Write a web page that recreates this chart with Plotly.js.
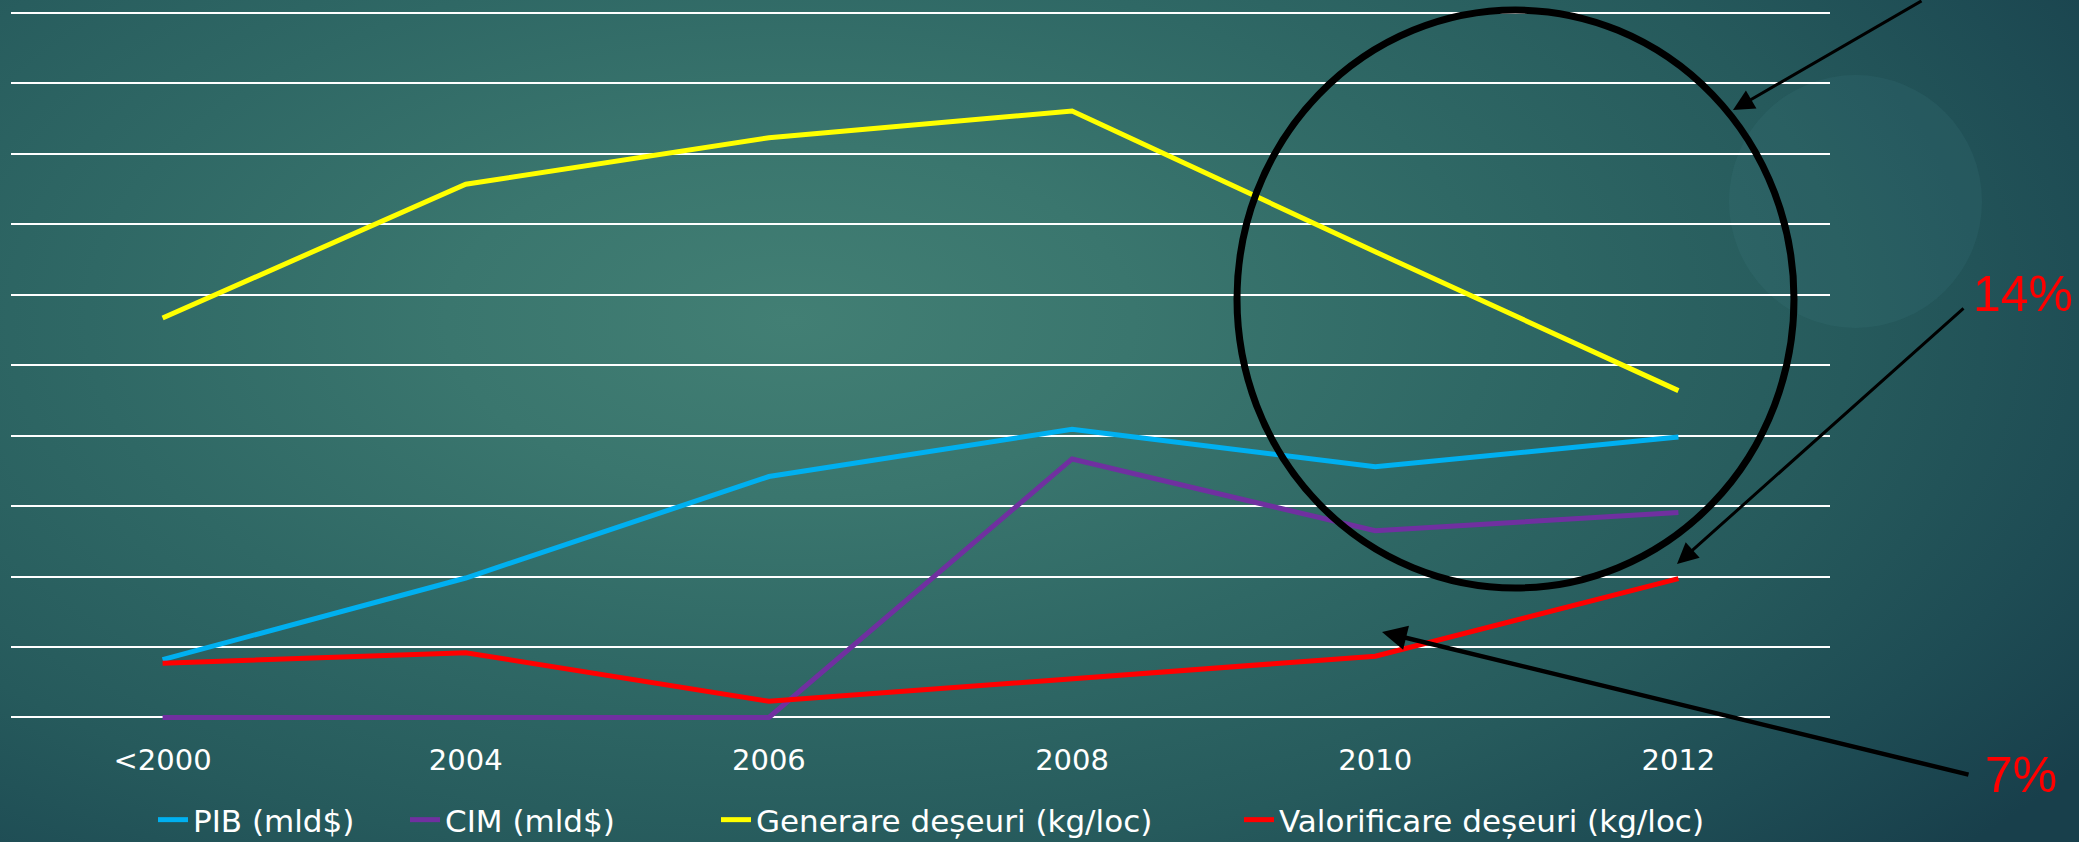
<!DOCTYPE html>
<html>
<head>
<meta charset="utf-8">
<script src="https://cdn.plot.ly/plotly-3.0.1.min.js"></script>
<style>
  html, body { margin: 0; padding: 0; }
  #chart {
    width: 2079px; height: 842px;
    background:
      radial-gradient(ellipse 75% 95% at 38% 38%, #427f74 0%, #3a766e 22%, #2f6865 45%, #265a5c 68%, #1e4c54 85%, #183f4b 100%);
  }
</style>
</head>
<body>
<div id="chart"></div>
<script>
// ---- data ----
const categories = ['<2000', '2004', '2006', '2008', '2010', '2012'];
const pib = [0.82, 1.98, 3.42, 4.09, 3.56, 3.98];
const cim = [0, 0, 0, 3.67, 2.65, 2.91];
const generare = [5.67, 7.57, 8.23, 8.61, 6.61, 4.64];
const valorificare = [0.77, 0.92, 0.23, 0.55, 0.87, 1.97];
const seriesNames = ['PIB (mld$)', 'CIM (mld$)', 'Generare deșeuri (kg/loc)', 'Valorificare deșeuri (kg/loc)'];
const seriesColors = ['#00b0f0', '#7030a0', '#ffff00', '#ff0000'];
const percentLabels = ['14%', '7%'];

// ---- layout geometry (pixels) ----
const W = 2079, H = 842;
const M = { l: 11, r: 249, t: 6, b: 121, autoexpand: false };
const plotW = W - M.l - M.r, plotH = H - M.t - M.b;
const px = x => (x - M.l) / plotW;          // pixel x -> paper x
const py = y => (H - M.b - y) / plotH;      // pixel y -> paper y

const legendIds = ['legend', 'legend2', 'legend3', 'legend4'];
const legendTextStart = [195, 447, 758, 1281]; // pixel x where each legend label begins

const allSeries = [pib, cim, generare, valorificare];
const traces = allSeries.map((vals, i) => ({
  type: 'scatter',
  mode: 'lines',
  x: categories,
  y: vals,
  name: seriesNames[i],
  legend: legendIds[i],
  line: { color: seriesColors[i], width: 5 },
  hoverinfo: 'skip'
}));

const font = 'DejaVu Sans, Arial, sans-serif';

const layout = {
  width: W, height: H,
  margin: M,
  paper_bgcolor: 'rgba(0,0,0,0)',
  plot_bgcolor: 'rgba(0,0,0,0)',
  showlegend: true,
  xaxis: {
    type: 'category',
    range: [-0.5, 5.5],
    automargin: false,
    showgrid: false, zeroline: false, showline: false,
    ticks: 'outside', ticklen: 13, tickcolor: 'rgba(0,0,0,0)',
    tickfont: { family: font, size: 29, color: '#ffffff' },
    fixedrange: true
  },
  yaxis: {
    range: [-0.05, 10.1],
    automargin: false,
    dtick: 1, tick0: 0,
    showticklabels: false,
    showgrid: true, gridcolor: '#ffffff', gridwidth: 2,
    zeroline: true, zerolinecolor: '#ffffff', zerolinewidth: 2,
    showline: false, ticks: '',
    fixedrange: true
  },
  shapes: [
    // faint decorative disc on the right
    { type: 'circle', xref: 'paper', yref: 'paper', layer: 'below',
      x0: px(1729), x1: px(1982), y0: py(328), y1: py(75),
      fillcolor: 'rgba(70,140,150,0.12)', line: { width: 0 } },
    // black ellipse around 2010-2012
    { type: 'circle', xref: 'paper', yref: 'paper', layer: 'above',
      x0: px(1237), x1: px(1794), y0: py(588), y1: py(10),
      line: { color: '#000000', width: 7 } }
  ],
  annotations: [
    { xref: 'paper', yref: 'paper', x: px(1733), y: py(110), ax: 190, ay: -110,
      showarrow: true, arrowhead: 2, arrowsize: 1.4, arrowwidth: 3, arrowcolor: '#000000', text: '' },
    { xref: 'paper', yref: 'paper', x: px(1677), y: py(564), ax: 288, ay: -257,
      showarrow: true, arrowhead: 2, arrowsize: 1.4, arrowwidth: 3, arrowcolor: '#000000', text: '' },
    { xref: 'paper', yref: 'paper', x: px(1382), y: py(632), ax: 588, ay: 143,
      showarrow: true, arrowhead: 2, arrowsize: 1.1, arrowwidth: 4.5, arrowcolor: '#000000', text: '' },
    { xref: 'paper', yref: 'paper', x: px(2023), y: py(294), xanchor: 'center', yanchor: 'middle',
      showarrow: false, text: percentLabels[0],
      font: { family: 'Liberation Sans Narrow, Liberation Sans, Arial, sans-serif', size: 50, color: '#ff0000' } },
    { xref: 'paper', yref: 'paper', x: px(2021), y: py(775), xanchor: 'center', yanchor: 'middle',
      showarrow: false, text: percentLabels[1],
      font: { family: 'Liberation Sans Narrow, Liberation Sans, Arial, sans-serif', size: 50, color: '#ff0000' } }
  ]
};

legendIds.forEach((id, i) => {
  layout[id] = {
    orientation: 'v',
    xref: 'container', x: (legendTextStart[i] - 42) / W, xanchor: 'left',
    yref: 'container', y: (H - 820) / H, yanchor: 'middle',
    font: { family: font, size: 31, color: '#ffffff' },
    bgcolor: 'rgba(0,0,0,0)',
    borderwidth: 0,
    itemwidth: 30
  };
});

Plotly.newPlot('chart', traces, layout, { staticPlot: true, displayModeBar: false });
</script>
</body>
</html>
